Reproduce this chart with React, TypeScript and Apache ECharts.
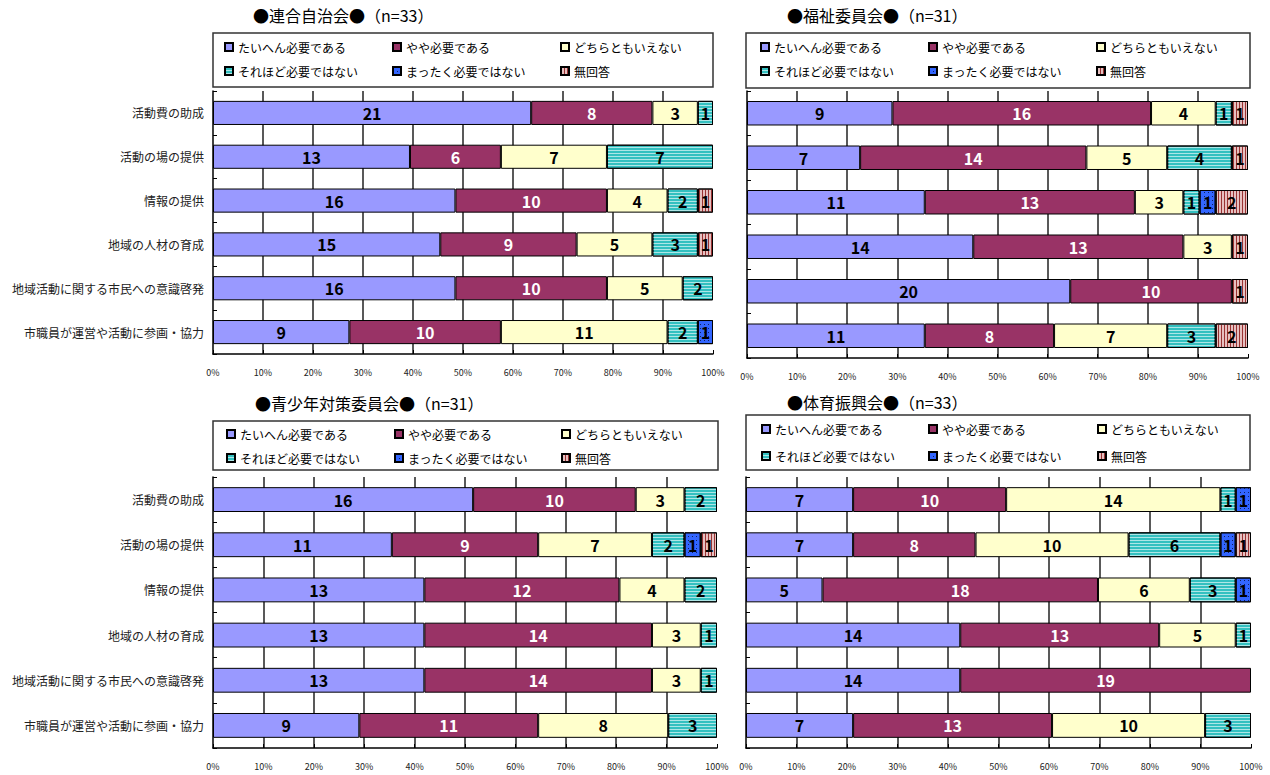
import React, { useEffect, useRef } from 'react';
import * as echarts from 'echarts';

const categories = [
  '活動費の助成',
  '活動の場の提供',
  '情報の提供',
  '地域の人材の育成',
  '地域活動に関する市民への意識啓発',
  '市職員が運営や活動に参画・協力',
];
const seriesNames = [
  'たいへん必要である',
  'やや必要である',
  'どちらともいえない',
  'それほど必要ではない',
  'まったく必要ではない',
  '無回答',
];
const panelTitles = ['●連合自治会●', '●福祉委員会●', '●青少年対策委員会●', '●体育振興会●'];
const panelN = [33, 31, 31, 33];

// counts per category (rows in category order)
const rengoTaihen = [21, 13, 16, 15, 16, 9];
const rengoYaya = [8, 6, 10, 9, 10, 10];
const rengoDochira = [3, 7, 4, 5, 5, 11];
const rengoSorehodo = [1, 7, 2, 3, 2, 2];
const rengoMattaku = [0, 0, 0, 0, 0, 1];
const rengoMukaito = [0, 0, 1, 1, 0, 0];

const fukushiTaihen = [9, 7, 11, 14, 20, 11];
const fukushiYaya = [16, 14, 13, 13, 10, 8];
const fukushiDochira = [4, 5, 3, 3, 0, 7];
const fukushiSorehodo = [1, 4, 1, 0, 0, 3];
const fukushiMattaku = [0, 0, 1, 0, 0, 0];
const fukushiMukaito = [1, 1, 2, 1, 1, 2];

const seishonenTaihen = [16, 11, 13, 13, 13, 9];
const seishonenYaya = [10, 9, 12, 14, 14, 11];
const seishonenDochira = [3, 7, 4, 3, 3, 8];
const seishonenSorehodo = [2, 2, 2, 1, 1, 3];
const seishonenMattaku = [0, 1, 0, 0, 0, 0];
const seishonenMukaito = [0, 1, 0, 0, 0, 0];

const taiikuTaihen = [7, 7, 5, 14, 14, 7];
const taiikuYaya = [10, 8, 18, 13, 19, 13];
const taiikuDochira = [14, 10, 6, 5, 0, 10];
const taiikuSorehodo = [1, 6, 3, 1, 0, 3];
const taiikuMattaku = [1, 1, 1, 0, 0, 0];
const taiikuMukaito = [0, 1, 0, 0, 0, 0];

const panels = [
  [rengoTaihen, rengoYaya, rengoDochira, rengoSorehodo, rengoMattaku, rengoMukaito],
  [fukushiTaihen, fukushiYaya, fukushiDochira, fukushiSorehodo, fukushiMattaku, fukushiMukaito],
  [seishonenTaihen, seishonenYaya, seishonenDochira, seishonenSorehodo, seishonenMattaku, seishonenMukaito],
  [taiikuTaihen, taiikuYaya, taiikuDochira, taiikuSorehodo, taiikuMattaku, taiikuMukaito],
];

const FONT = '"Noto Sans CJK JP", "Noto Sans", sans-serif';

const seriesColors = ['#9999ff', '#993366', '#ffffcc', '#33c0c0', '#3366ff', '#e6c0c0'];
const seriesDecals: any[] = [
  null,
  null,
  null,
  { symbol: 'rect', symbolSize: 1, color: 'rgba(255,255,255,0.6)', dashArrayX: [1, 0], dashArrayY: [1, 2] },
  { symbol: 'rect', symbolSize: 1, color: '#102060', dashArrayX: [1, 3], dashArrayY: [1, 3] },
  { symbol: 'rect', symbolSize: 1, color: '#993333', dashArrayX: [1, 2], dashArrayY: [1, 0] },
];
const labelColors = ['#000', '#fff', '#000', '#000', '#000', '#000'];

const grids = [
  { left: 213, top: 91, width: 500, height: 263 },
  { left: 747, top: 91, width: 501, height: 267 },
  { left: 213, top: 477, width: 504, height: 271 },
  { left: 746, top: 477, width: 505, height: 271 },
];
const titlePos = [
  { left: 253, top: 4 },
  { left: 787, top: 4 },
  { left: 255, top: 392 },
  { left: 787, top: 391 },
];
const legendBoxes = [
  { x: 213, y: 33, width: 500, height: 54 },
  { x: 746, y: 33, width: 504, height: 55 },
  { x: 213, y: 421, width: 505, height: 49 },
  { x: 746, y: 415, width: 504, height: 55 },
];
const legendCols = [
  [224, 392, 560],
  [760, 928, 1096],
  [226, 394, 561],
  [761, 928, 1097],
];
const legendRow1 = [47, 47, 434, 429];
const legendPitch = [24, 24, 24, 27];

export default function App() {
  const ref = useRef<HTMLDivElement>(null);
  useEffect(() => {
    if (!ref.current) return;
    const chart = echarts.init(ref.current, null, { renderer: 'svg' });

    const series: any[] = [];
    panels.forEach((panel, p) => {
      const n = panelN[p];
      panel.forEach((counts, s) => {
        series.push({
          type: 'bar',
          name: seriesNames[s],
          stack: 'p' + p,
          xAxisIndex: p,
          yAxisIndex: p,
          barWidth: '55%',
          data: counts.map((c) => (c === 0 ? null : (c / n) * 100)),
          itemStyle: {
            color: seriesColors[s],
            borderColor: '#000',
            borderWidth: 1,
            decal: seriesDecals[s] || undefined,
          },
          label: {
            show: true,
            position: 'inside',
            color: labelColors[s],
            fontSize: 16,
            fontWeight: 'bold',
            fontFamily: FONT,
            formatter: (prm: any) => String(counts[prm.dataIndex]),
          },
          emphasis: { disabled: true },
        });
      });
    });

    const legends: any[] = [];
    legendCols.forEach((cols, p) => {
      cols.forEach((x, c) => {
        legends.push({
          orient: 'vertical',
          left: x,
          top: legendRow1[p] - 6,
          padding: 0,
          itemWidth: 8,
          itemHeight: 8,
          itemGap: legendPitch[p] - 12,
          icon: 'rect',
          selectedMode: false,
          data: [seriesNames[c], seriesNames[c + 3]],
          textStyle: { fontSize: 12, fontFamily: FONT, color: '#000' },
        });
      });
    });

    const option: any = {
      animation: false,
      backgroundColor: '#fff',
      title: panelTitles.map((t, p) => ({
        text: t + '（n=' + panelN[p] + '）',
        left: titlePos[p].left,
        top: titlePos[p].top,
        padding: 0,
        textStyle: { fontSize: 16, fontWeight: 'normal', fontFamily: FONT, color: '#000', lineHeight: 22 },
      })),
      legend: legends,
      graphic: legendBoxes.map((b) => ({
        type: 'rect',
        shape: { x: b.x, y: b.y, width: b.width, height: b.height },
        style: { fill: 'none', stroke: '#333', lineWidth: 1.5 },
        silent: true,
      })),
      grid: grids.map((g) => ({ ...g, containLabel: false })),
      xAxis: grids.map((_, p) => ({
        type: 'value',
        gridIndex: p,
        min: 0,
        max: 100,
        interval: 10,
        axisLine: { show: true, lineStyle: { color: '#000', width: 1.5 } },
        axisTick: { show: true, inside: true, length: 4, lineStyle: { color: '#000' } },
        splitLine: { show: true, showMinLine: false, showMaxLine: false, lineStyle: { color: '#222', width: 1.5 } },
        axisLabel: { formatter: '{value}%', fontSize: 9, color: '#222', margin: 14, fontFamily: FONT },
      })),
      yAxis: grids.map((_, p) => ({
        type: 'category',
        gridIndex: p,
        inverse: true,
        data: categories,
        axisLine: { show: true, lineStyle: { color: '#000', width: 1.5 } },
        axisTick: { show: true, inside: true, length: 4, lineStyle: { color: '#000' } },
        axisLabel: { show: p % 2 === 0, fontSize: 12, color: '#222', margin: 9, fontFamily: FONT },
      })),
      series,
    };
    chart.setOption(option);
    return () => chart.dispose();
  }, []);
  return <div ref={ref} style={{ position: 'absolute', left: 0, top: 0, width: 1270, height: 775 }} />;
}
